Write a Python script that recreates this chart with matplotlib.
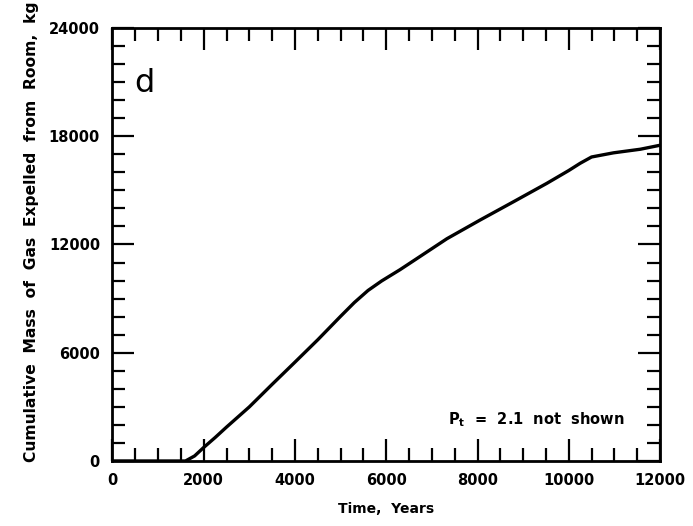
import matplotlib
matplotlib.use("Agg")
import matplotlib.pyplot as plt
from matplotlib.ticker import MultipleLocator, FixedLocator

# Data
time_years = [0, 1600, 1800, 2000, 2250, 2500, 3000, 3500, 4000, 4500, 5000, 5300, 5600,
              5900, 6300, 6600, 7330, 8060, 8790, 9520, 10000, 10250, 10500, 10980, 11570, 12000]
mass_kg = [0, 0, 280, 750, 1300, 1880, 3000, 4250, 5480, 6720, 8020, 8780, 9450,
           9980, 10600, 11100, 12320, 13360, 14370, 15390, 16100, 16500, 16850, 17080, 17280, 17500]

x_major = [0, 2000, 4000, 6000, 8000, 10000, 12000]
y_major = [0, 6000, 12000, 18000, 24000]

fig = plt.figure(figsize=(6.93, 5.26), dpi=100)
ax = fig.add_axes([0.1623, 0.1236, 0.7901, 0.8232])

ax.plot(time_years, mass_kg, color="black", linewidth=2.4, solid_joinstyle="round")

ax.set_xlim(0, 12000)
ax.set_ylim(0, 24000)
ax.xaxis.set_major_locator(FixedLocator(x_major))
ax.yaxis.set_major_locator(FixedLocator(y_major))
ax.xaxis.set_minor_locator(MultipleLocator(500))
ax.yaxis.set_minor_locator(MultipleLocator(1000))
ax.set_xticklabels([str(v) for v in x_major])
ax.set_yticklabels([str(v) for v in y_major])

ax.tick_params(which="both", direction="in", top=True, right=True, width=1.6, color="black")
ax.tick_params(which="major", length=16, labelsize=10.5, pad=9)
ax.tick_params(which="minor", length=9.5)
for lab in ax.get_xticklabels() + ax.get_yticklabels():
    lab.set_fontweight("bold")
    lab.set_family("DejaVu Sans")
for s in ax.spines.values():
    s.set_linewidth(2.0)

ax.set_xlabel("Time,  Years", fontsize=10, fontweight="bold", labelpad=10)
ax.set_ylabel("Cumulative  Mass  of  Gas  Expelled  from  Room,  kg", fontsize=11.2,
              fontweight="bold")
ax.yaxis.set_label_coords(-0.135, 0.53)

ax.text(0.04, 0.852, "d", transform=ax.transAxes, fontsize=23, ha="left", va="baseline")
ax.text(0.935, 0.095, r"P$_\mathbf{t}$  =  2.1  not  shown", transform=ax.transAxes,
        fontsize=10.5, fontweight="bold", ha="right", va="center")

fig.savefig("out.png", dpi=100)
